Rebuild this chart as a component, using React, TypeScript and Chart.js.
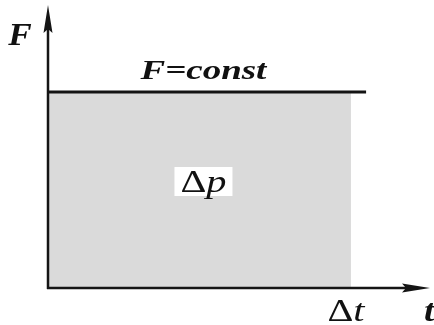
import React, { useEffect, useRef } from "react";
import { Chart, registerables } from "chart.js";

Chart.register(...registerables);

// Impulse of a constant force: F stays at one level over the interval Δt
const forceLevel = [1, 1];
const areaTimes = [0, 1];          // t from 0 to Δt
const lineTimes = [0, 1.05];       // the F line runs a little past Δt
const axisLabels = { force: "F", time: "t", delta: "Δ", intervalVar: "t", impulseVar: "p", constant: "F=const" };

const X_MAX = 1.261;
const Y_MAX = 1.444;

const SERIF = '"Liberation Serif", "Times New Roman", serif';

type Part = { text: string; font: string };

// Draws a run of text pieces (each with its own font) stretched horizontally
function drawRun(
  ctx: CanvasRenderingContext2D,
  parts: Part[],
  cx: number,
  y: number,
  stretch: number,
  align: "center" | "left"
) {
  ctx.save();
  ctx.textBaseline = "alphabetic";
  ctx.textAlign = "left";
  ctx.fillStyle = "#111";
  let total = 0;
  const widths = parts.map((p) => {
    ctx.font = p.font;
    const w = ctx.measureText(p.text).width;
    total += w;
    return w;
  });
  ctx.translate(cx, y);
  ctx.scale(stretch, 1);
  let x = align === "center" ? -total / 2 : 0;
  parts.forEach((p, i) => {
    ctx.font = p.font;
    ctx.fillText(p.text, x, 0);
    x += widths[i];
  });
  ctx.restore();
}

const axesPlugin = {
  id: "impulseAxes",
  afterDatasetsDraw(chart: any) {
    const ctx: CanvasRenderingContext2D = chart.ctx;
    const xs = chart.scales.x;
    const ys = chart.scales.y;
    const x0 = xs.getPixelForValue(0);
    const y0 = ys.getPixelForValue(0);
    const xEnd = xs.getPixelForValue(X_MAX);
    const yTop = ys.getPixelForValue(Y_MAX);

    ctx.save();
    ctx.strokeStyle = "#151515";
    ctx.fillStyle = "#151515";
    ctx.lineWidth = 2.5;
    ctx.lineCap = "butt";

    // vertical axis
    ctx.beginPath();
    ctx.moveTo(x0, y0 + 1);
    ctx.lineTo(x0, yTop + 20);
    ctx.stroke();
    ctx.beginPath();
    ctx.moveTo(x0, yTop);
    ctx.lineTo(x0 - 4.5, yTop + 28);
    ctx.lineTo(x0, yTop + 24);
    ctx.lineTo(x0 + 4.5, yTop + 28);
    ctx.closePath();
    ctx.fill();

    // horizontal axis
    ctx.beginPath();
    ctx.moveTo(x0 - 1, y0);
    ctx.lineTo(xEnd - 20, y0);
    ctx.stroke();
    ctx.beginPath();
    ctx.moveTo(xEnd, y0);
    ctx.lineTo(xEnd - 28, y0 - 4.5);
    ctx.lineTo(xEnd - 24, y0);
    ctx.lineTo(xEnd - 28, y0 + 4.5);
    ctx.closePath();
    ctx.fill();
    ctx.restore();

    const dtPx = xs.getPixelForValue(areaTimes[1]);
    const fPx = ys.getPixelForValue(forceLevel[0]);

    // label box behind Δp
    const midX = (x0 + dtPx) / 2 + 4;
    const midY = (fPx + y0) / 2 - 9;
    ctx.save();
    ctx.fillStyle = "#ffffff";
    ctx.fillRect(midX - 29, midY - 14, 58, 29);
    ctx.restore();

    const upright = `31px ${SERIF}`;
    const italic = `italic 31px ${SERIF}`;
    drawRun(
      ctx,
      [{ text: axisLabels.delta, font: upright }, { text: axisLabels.impulseVar, font: italic }],
      midX,
      midY + 11,
      1.3,
      "center"
    );
    drawRun(ctx, [{ text: axisLabels.constant, font: `bold italic 28px ${SERIF}` }], midX, fPx - 13, 1.32, "center");
    drawRun(ctx, [{ text: axisLabels.force, font: `bold italic 32px ${SERIF}` }], x0 - 28, yTop + 40, 1.1, "center");
    drawRun(
      ctx,
      [{ text: axisLabels.delta, font: upright }, { text: axisLabels.intervalVar, font: `italic 31px ${SERIF}` }],
      dtPx - 5,
      y0 + 33,
      1.3,
      "center"
    );
    drawRun(ctx, [{ text: axisLabels.time, font: `bold italic 31px ${SERIF}` }], xEnd - 6, y0 + 33, 1.2, "left");
  },
};

export default function App() {
  const canvasRef = useRef<HTMLCanvasElement | null>(null);

  useEffect(() => {
    const canvas = canvasRef.current;
    if (!canvas) return;
    const chart = new Chart(canvas, {
      type: "line",
      data: {
        datasets: [
          {
            label: "force",
            data: lineTimes.map((t, i) => ({ x: t, y: forceLevel[i] })),
            fill: false,
            borderColor: "#141414",
            borderWidth: 3,
            pointRadius: 0,
            order: 0,
          },
          {
            label: "impulse",
            data: areaTimes.map((t, i) => ({ x: t, y: forceLevel[i] })),
            fill: "origin",
            backgroundColor: "#dadada",
            borderWidth: 0,
            pointRadius: 0,
            order: 1,
          },
        ],
      },
      options: {
        animation: false,
        responsive: false,
        devicePixelRatio: 1,
        layout: { padding: { left: 48, top: 5, right: 4, bottom: 37 } },
        plugins: { legend: { display: false }, tooltip: { enabled: false } },
        scales: {
          x: { type: "linear", min: 0, max: X_MAX, display: false },
          y: { type: "linear", min: 0, max: Y_MAX, display: false },
        },
      },
      plugins: [axesPlugin],
    });
    return () => chart.destroy();
  }, []);

  return (
    <canvas
      ref={canvasRef}
      width={434}
      height={325}
      style={{ position: "absolute", left: 0, top: 0, background: "#fff" }}
    />
  );
}
